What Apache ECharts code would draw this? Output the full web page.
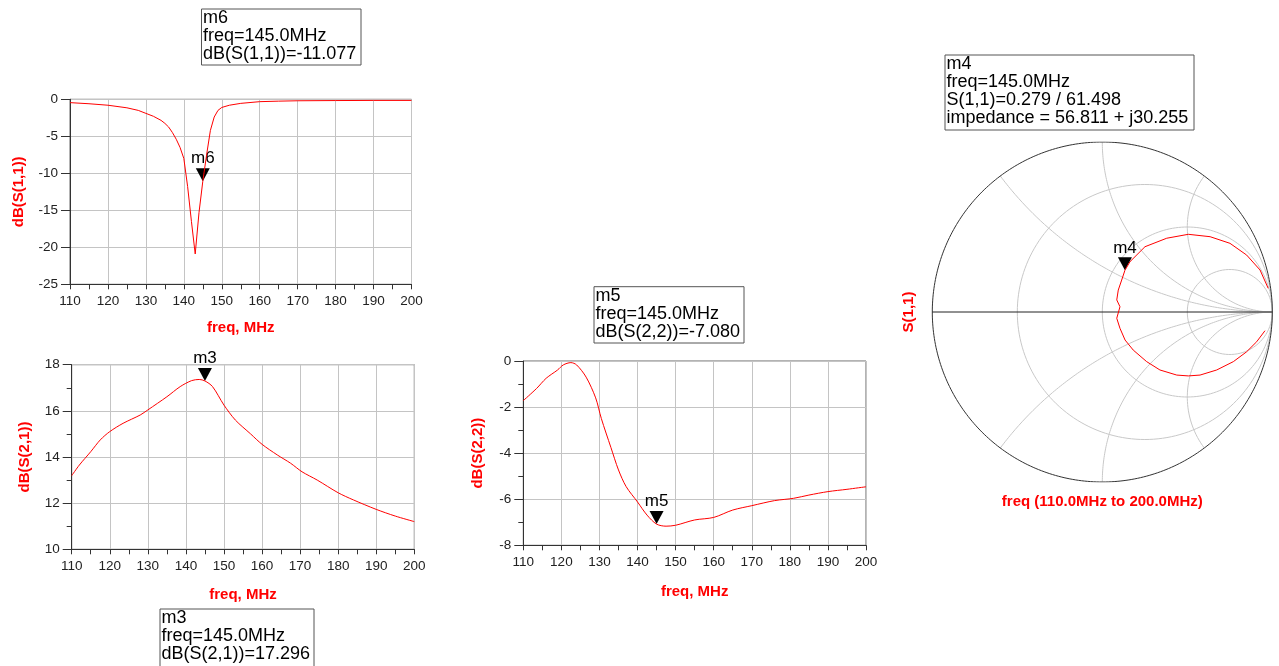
<!DOCTYPE html>
<html><head><meta charset="utf-8">
<script src="https://cdn.jsdelivr.net/npm/echarts@6/dist/echarts.min.js"></script>
<style>html,body{margin:0;padding:0;background:#fff}#c{width:1279px;height:666px}</style>
</head><body><div id="c"></div>
<script>
// ---------- data ----------
const s11Freq = [110,115,120,125,128,130,132,134,135,136,137,138,139,140,141,142,143,144,145,146,147,148,149,150,152,155,160,165,170,180,190,200];
const s11dB   = [-0.45,-0.6,-0.8,-1.15,-1.5,-1.9,-2.3,-2.85,-3.25,-3.75,-4.5,-5.4,-6.5,-8.0,-11.8,-16.5,-20.9,-15.3,-11.077,-7.5,-4.2,-2.4,-1.5,-1.1,-0.8,-0.55,-0.32,-0.25,-0.2,-0.17,-0.15,-0.15];

const s21Freq = [110,112,115,117.5,120,123.5,128,130,135,138.5,141.5,143.5,145,147,150,153,157,160,164,167.5,170.5,174.5,180,184,190,195,200];
const s21dB   = [13.19,13.65,14.23,14.74,15.1,15.46,15.82,16.04,16.61,17.05,17.31,17.36,17.296,17.05,16.25,15.6,15.0,14.55,14.09,13.73,13.36,13.0,12.45,12.14,11.73,11.44,11.2];

const s22Freq = [110,113.5,116,119,120.5,122.5,124,126.5,129,130.5,133,135,137,140,142.5,145,147.5,150,155,160,165,170,176,181,185,190,195,200];
const s22dB   = [-1.72,-1.19,-0.75,-0.39,-0.17,-0.07,-0.17,-0.7,-1.6,-2.5,-3.75,-4.73,-5.45,-6.12,-6.69,-7.08,-7.17,-7.13,-6.9,-6.79,-6.47,-6.28,-6.06,-5.96,-5.82,-5.67,-5.57,-5.46];

// S(1,1) on the Smith chart, 110 MHz -> 200 MHz (real, imaginary parts of reflection coefficient)
const smithRe = [0.957,0.908,0.849,0.771,0.673,0.575,0.506,0.438,0.339,0.261,0.182,0.134,0.104,0.085,0.104,0.085,0.094,0.114,0.133,0.163,0.251,0.379,0.506,0.634,0.751,0.849,0.928,0.976];
const smithIm = [-0.110,-0.175,-0.234,-0.292,-0.341,-0.371,-0.376,-0.371,-0.341,-0.292,-0.224,-0.165,-0.096,-0.037,0.031,0.071,0.129,0.188,0.245,0.296,0.384,0.434,0.457,0.443,0.404,0.335,0.247,0.139];

// markers
const markerFreq = 145.0;
const m6Val = -11.077, m3Val = 17.296, m5Val = -7.080;
const m4Mag = 0.279, m4Ang = 61.498;

// Smith chart grid values
const rCircles = [1/3, 1, 3];
const xArcs = [0.5, 1, 2, -0.5, -1, -2];

const xTickMin = 110, xTickMax = 200, xTickStep = 10;

// ---------- helpers ----------
const FONT = '"Liberation Sans", Arial, sans-serif';
const RED = '#ff0000';
function pairs(a, b) { return a.map((v, i) => [v, b[i]]); }
function circ(cx, cy, r, a0, a1, n) {
  const p = [];
  for (let i = 0; i <= n; i++) { const a = a0 + (a1 - a0) * i / n; p.push([cx + r * Math.cos(a), cy + r * Math.sin(a)]); }
  return p;
}
const smithGrid = [];
rCircles.forEach(r => smithGrid.push(circ(r / (1 + r), 0, 1 / (1 + r), 0, 2 * Math.PI, 180)));
xArcs.forEach(x => {
  const ax = Math.abs(x);
  let end = Math.atan2(ax * ax - 1, -2 * ax); if (end > 0) end -= 2 * Math.PI;
  let pts = circ(1, 1 / ax, 1 / ax, -Math.PI / 2, end, 120);
  if (x < 0) pts = pts.map(p => [p[0], -p[1]]);
  smithGrid.push(pts);
});

const m4Re = m4Mag * Math.cos(m4Ang * Math.PI / 180), m4Im = m4Mag * Math.sin(m4Ang * Math.PI / 180);

const grids = [
  { left: 70, top: 99.3, width: 341.5, height: 185 },
  { left: 71.7, top: 364.7, width: 342.6, height: 184.6 },
  { left: 523.3, top: 361, width: 342.7, height: 184.3 },
  { left: 932.3, top: 142, width: 340, height: 340 }
].map(g => Object.assign({ show: true, borderColor: '#666', borderWidth: 1, containLabel: false }, g));
grids[3].show = false;

function xAx(gi, gap) {
  return {
    type: 'value', gridIndex: gi, min: xTickMin, max: xTickMax, interval: xTickStep,
    name: 'freq, MHz', nameLocation: 'middle', nameGap: gap,
    nameTextStyle: { color: RED, fontSize: 15, fontWeight: 'bold', fontFamily: FONT },
    axisLine: { show: true, onZero: false, lineStyle: { color: '#333', width: 1 } },
    axisTick: { show: true, inside: false, length: 5, lineStyle: { color: '#333' } },
    minorTick: { show: true, splitNumber: 2, length: 5, lineStyle: { color: '#333' } },
    axisLabel: { color: '#222', fontSize: 13.5, fontFamily: FONT, margin: 10 },
    splitLine: { show: true, lineStyle: { color: '#c4c4c4', width: 1 } }
  };
}
function yAx(gi, min, max, step, name, gap, minor) {
  return {
    type: 'value', gridIndex: gi, min: min, max: max, interval: step,
    name: name, nameLocation: 'middle', nameGap: gap,
    nameTextStyle: { color: RED, fontSize: 15, fontWeight: 'bold', fontFamily: FONT },
    axisLine: { show: true, onZero: false, lineStyle: { color: '#333', width: 1 } },
    axisTick: { show: true, inside: false, length: 9, lineStyle: { color: '#333' } },
    minorTick: { show: minor, splitNumber: 2, length: 5, lineStyle: { color: '#333' } },
    axisLabel: { color: '#222', fontSize: 13.5, fontFamily: FONT, margin: 12 },
    splitLine: { show: true, lineStyle: { color: '#c4c4c4', width: 1 } }
  };
}

const triPath = 'path://M0,0L14,0L7,13Z';
function marker(label, coord) {
  return {
    symbol: triPath, symbolSize: [14, 13], symbolOffset: [0, '-50%'], silent: true,
    itemStyle: { color: '#000' },
    label: { show: true, position: 'top', distance: 1, formatter: label, color: '#000', fontSize: 17, fontFamily: FONT },
    data: [{ coord: coord }]
  };
}
function trace(gi, data, mk, smooth) {
  return {
    type: 'line', xAxisIndex: gi, yAxisIndex: gi, data: data, showSymbol: false, smooth: smooth,
    lineStyle: { color: RED, width: 1 }, silent: true, z: 5, markPoint: mk
  };
}

const series = [
  trace(0, pairs(s11Freq, s11dB), marker('m6', [markerFreq, m6Val]), false),
  trace(1, pairs(s21Freq, s21dB), marker('m3', [markerFreq, m3Val]), 0.3),
  trace(2, pairs(s22Freq, s22dB), marker('m5', [markerFreq, m5Val]), 0.3)
];
smithGrid.forEach(pts => series.push({
  type: 'line', xAxisIndex: 3, yAxisIndex: 3, data: pts, showSymbol: false, silent: true, z: 1,
  lineStyle: { color: '#c8c8c8', width: 1 }
}));
series.push({ type: 'line', xAxisIndex: 3, yAxisIndex: 3, data: circ(0, 0, 1, 0, 2 * Math.PI, 360), showSymbol: false, silent: true, z: 2, lineStyle: { color: '#333', width: 1 } });
series.push({ type: 'line', xAxisIndex: 3, yAxisIndex: 3, data: [[-1, 0], [1, 0]], showSymbol: false, silent: true, z: 2, lineStyle: { color: '#222', width: 1 } });
series.push(trace(3, pairs(smithRe, smithIm), marker('m4', [m4Re, m4Im]), false));

function hidden(gi, name, gap) {
  return {
    type: 'value', gridIndex: gi, min: -1, max: 1, name: name, nameLocation: 'middle', nameGap: gap,
    nameTextStyle: { color: RED, fontSize: 15, fontWeight: 'bold', fontFamily: FONT },
    axisLine: { show: false }, axisTick: { show: false }, axisLabel: { show: false }, splitLine: { show: false }
  };
}

function box(x, y, w, h, lines) {
  return [
    { type: 'rect', shape: { x: x, y: y, width: w, height: h }, style: { fill: '#fff', stroke: '#555', lineWidth: 1 }, z: 10 },
    { type: 'text', x: x + 1.5, y: y + 0.5, style: { text: lines.join('\n'), fill: '#000', font: '18px ' + FONT, lineHeight: 18, verticalAlign: 'top', align: 'left' }, z: 11 }
  ];
}

const chart = echarts.init(document.getElementById('c'), null, { renderer: 'canvas' });
chart.setOption({
  animation: false,
  backgroundColor: '#fff',
  grid: grids,
  xAxis: [xAx(0, 36), xAx(1, 38), xAx(2, 39), hidden(3, 'freq (110.0MHz to 200.0MHz)', 12)],
  yAxis: [
    yAx(0, -25, 0, 5, 'dB(S(1,1))', 44, false),
    yAx(1, 10, 18, 2, 'dB(S(2,1))', 39, true),
    yAx(2, -8, 0, 2, 'dB(S(2,2))', 37.5, true),
    hidden(3, 'S(1,1)', 16)
  ],
  series: series,
  graphic: [].concat(
    box(201.5, 9, 159.5, 56, ['m6', 'freq=145.0MHz', 'dB(S(1,1))=-11.077']),
    box(160, 609, 154, 62, ['m3', 'freq=145.0MHz', 'dB(S(2,1))=17.296']),
    box(594, 286.7, 150, 56.3, ['m5', 'freq=145.0MHz', 'dB(S(2,2))=-7.080']),
    box(945, 55, 249, 75, ['m4', 'freq=145.0MHz', 'S(1,1)=0.279 / 61.498', 'impedance = 56.811 + j30.255'])
  )
});
</script>
</body></html>
